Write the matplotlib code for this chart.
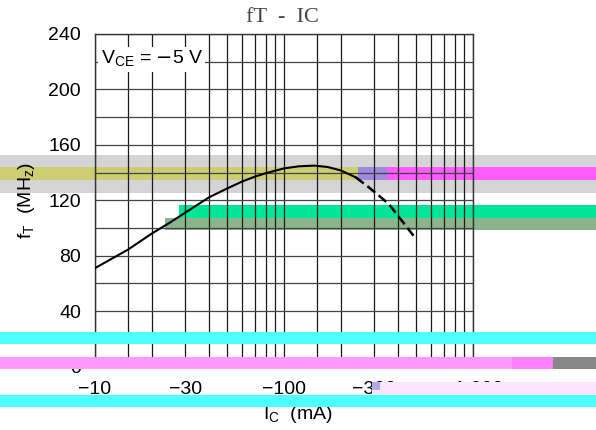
import matplotlib.pyplot as plt
from matplotlib.patches import Rectangle
from matplotlib.ticker import FixedLocator, NullFormatter

# ---- data ----
ic_solid = [10, 15, 20, 25, 30, 40, 50, 60, 70, 80, 100, 120, 145, 170, 200, 240]
ft_solid = [71, 84.5, 96, 104, 111, 122, 128.5, 133.5, 137, 139.5, 143, 144.5, 145, 144, 141.5, 136.5]
ic_dash = [240, 280, 320, 360, 400, 450, 500]
ft_dash = [136.5, 129.5, 123, 117, 109, 100, 92]

x_ticks = [10, 30, 100, 300, 1000]
x_labels = ['\u221210', '\u221230', '\u2212100', '\u2212300', '\u22121 000']
y_ticks = [0, 40, 80, 120, 160, 200, 240]

W, H = 596, 430
plt.rcParams['font.family'] = ['Liberation Sans', 'DejaVu Sans']

fig = plt.figure(figsize=(W / 100, H / 100), dpi=100, facecolor='white')
ax = fig.add_axes([95 / W, 1 - 366.5 / H, (473 - 95) / W, (366.5 - 34) / H])
ax.set_facecolor('none')

ax.plot(ic_solid, ft_solid, color='black', lw=1.5, zorder=3)
ax.plot(ic_dash, ft_dash, color='black', lw=1.8, ls=(0, (4, 1.8)), zorder=3)

ax.set_xscale('log')
ax.set_xlim(10, 1000)
ax.set_ylim(0, 240)
ax.set_xticks(x_ticks)
ax.set_xticklabels(x_labels)
ax.xaxis.set_minor_locator(FixedLocator([15, 20, 40, 50, 60, 70, 80, 90,
                                         150, 200, 400, 500, 600, 700, 800, 900]))
ax.xaxis.set_minor_formatter(NullFormatter())
ax.set_yticks(y_ticks)
ax.yaxis.set_minor_locator(FixedLocator(range(20, 240, 40)))
ax.tick_params(which='both', length=0, labelsize=14)
ax.tick_params(axis='x', pad=10.5)
ax.tick_params(axis='y', pad=10)
ax.xaxis.grid(True, which='both', color='#1a1a1a', lw=0.9)
ax.yaxis.grid(True, which='both', color='#444444', lw=0.9)
for s in ax.spines.values():
    s.set_color('#333333')
    s.set_linewidth(1.0)

ax.set_xlabel(r'I$_\mathregular{C}$  (mA)', fontsize=14)
ax.xaxis.set_label_coords(0.537, -0.112)
ax.set_ylabel(r'f$_\mathregular{T}$  (MH$_\mathregular{z}$)', fontsize=14, labelpad=8)
ax.text(0.015, 0.955, r'V$_\mathregular{CE}$ = $-$5 V', transform=ax.transAxes,
        fontsize=14, va='top', ha='left', zorder=4,
        bbox=dict(boxstyle='square,pad=0.12', facecolor='white', edgecolor='none'))
fig.text(282 / W, 1 - 18 / H, 'fT  -  IC', family='Liberation Serif',
         fontsize=16, color='#444444', ha='center', va='center')

# colour bands seen across the reference image (pixel boxes)
bands = [
    (0, 596, 155, 193, '#d4d4d4', -1),
    (0, 358, 167, 180, '#cdcd72', -1),
    (358, 387, 167, 180, '#a088e0', -1),
    (387, 596, 167, 180, '#ff5cff', -1),
    (179, 596, 205, 218, '#00e699', -1),
    (165, 596, 218, 230, '#8cb48c', -1),
    (0, 596, 332, 344, '#4dffff', 5),
    (0, 512, 357, 369, '#ff99ff', 5),
    (512, 553, 357, 369, '#ff80ff', 5),
    (553, 596, 357, 369, '#888888', 5),
    (372, 596, 382, 394, '#fde6fd', 5),
    (372, 380, 382, 390, '#b0a8f0', 5),
    (0, 596, 395, 407, '#4dffff', 5),
]
for x0, x1, y0, y1, c, z in bands:
    fig.add_artist(Rectangle((x0 / W, 1 - y1 / H), (x1 - x0) / W, (y1 - y0) / H,
                             transform=fig.transFigure, facecolor=c,
                             edgecolor='none', zorder=z))

fig.savefig('out.png', dpi=100, facecolor='white')
